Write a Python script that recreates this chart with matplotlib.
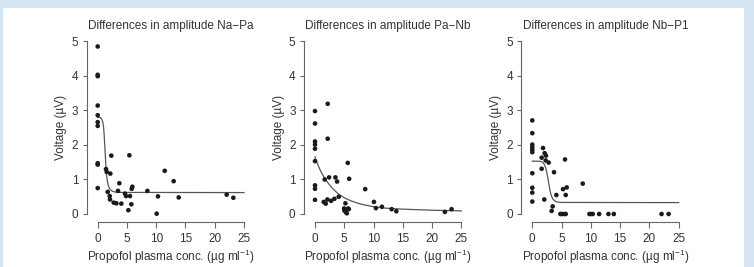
import numpy as np
import matplotlib
matplotlib.use('Agg')
from matplotlib import pyplot as plt
from matplotlib.patches import Rectangle

plt.rcParams['font.family'] = ['Liberation Sans', 'DejaVu Sans']
plt.rcParams['mathtext.fontset'] = 'custom'
plt.rcParams['mathtext.rm'] = 'Liberation Sans'
plt.rcParams['mathtext.it'] = 'Liberation Sans:italic'

titles = ['Differences in amplitude Na\u2212Pa',
          'Differences in amplitude Pa\u2212Nb',
          'Differences in amplitude Nb\u2212P1']
x_ticks = [0, 5, 10, 15, 20, 25]
y_ticks = [0, 1, 2, 3, 4, 5]

# Na-Pa
na_pa_x = [0, 0, 0, 0, 0, 0, 0, 0, 0, 0,
           2.33, 5.41, 1.42, 1.54, 2.16, 11.45, 12.98, 3.70, 1.71, 2.05,
           2.10, 3.47, 4.67, 4.84, 5.52, 5.81, 5.92, 8.49, 10.3, 13.84,
           22.04, 23.18, 2.73, 3.19, 4.04, 5.75, 5.24, 10.08]
na_pa_y = [4.85, 4.03, 3.99, 3.14, 2.86, 2.66, 2.55, 1.47, 1.43, 0.75,
           1.69, 1.70, 1.30, 1.22, 1.17, 1.25, 0.95, 0.89, 0.64, 0.52,
           0.42, 0.67, 0.59, 0.52, 0.52, 0.73, 0.79, 0.67, 0.51, 0.48,
           0.56, 0.47, 0.33, 0.31, 0.30, 0.28, 0.11, 0.01]
na_pa_fit_x = [0, 0.3, 0.6, 0.85, 1.0, 1.1, 1.2, 1.3, 1.4, 1.5, 1.65, 1.85,
               2.1, 2.5, 3.0, 4.0, 25]
na_pa_fit_y = [2.80, 2.80, 2.77, 2.68, 2.52, 2.30, 2.00, 1.70, 1.40, 1.15,
               0.95, 0.80, 0.71, 0.66, 0.635, 0.625, 0.62]

# Pa-Nb
pa_nb_x = [0, 0, 0, 0, 0, 0, 0, 0, 0,
           2.17, 2.17, 1.66, 2.40, 3.49, 3.78, 5.60, 5.84, 8.58,
           1.49, 1.83, 2.12, 2.75, 3.32, 4.06, 5.20, 4.98, 5.03, 5.26,
           5.43, 5.66, 5.78, 10.07, 10.41, 11.44, 13.1, 13.9, 22.2, 23.34]
pa_nb_y = [2.98, 2.62, 2.10, 2.01, 1.89, 1.53, 0.83, 0.73, 0.41,
           3.19, 2.18, 1.00, 1.06, 1.06, 0.94, 1.48, 1.02, 0.72,
           0.35, 0.30, 0.42, 0.38, 0.44, 0.50, 0.31, 0.16, 0.10, 0.06,
           0.02, 0.16, 0.14, 0.35, 0.17, 0.21, 0.14, 0.08, 0.06, 0.14]
pa_nb_fit_x = [0, 0.5, 1, 1.5, 2, 2.5, 3, 4, 5, 6, 7, 8, 10, 12, 15, 20, 25]
pa_nb_fit_y = [1.65, 1.42, 1.23, 1.08, 0.95, 0.84, 0.74, 0.58, 0.47, 0.39,
               0.33, 0.28, 0.21, 0.17, 0.14, 0.11, 0.09]

# Nb-P1
nb_p1_x = [0, 0, 0, 0, 0, 0, 0, 0, 0, 0,
           1.83, 1.60, 1.60, 2.11, 2.34, 2.28, 2.80, 3.71, 2.05, 3.48,
           3.31, 4.11, 5.59, 5.25, 5.88, 5.71, 8.62,
           4.80, 5.08, 5.48, 5.71, 9.76, 10.05, 10.33, 11.42, 13.01, 13.93,
           22.09, 23.29]
nb_p1_y = [2.71, 2.34, 2.01, 1.93, 1.86, 1.79, 1.18, 0.76, 0.62, 0.36,
           1.91, 1.63, 1.31, 1.76, 1.69, 1.55, 1.49, 1.21, 0.42, 0.22,
           0.09, 0.55, 1.58, 0.72, 0.77, 0.55, 0.88,
           0, 0, 0, 0, 0, 0, 0, 0, 0, 0,
           0, 0]
nb_p1_fit_x = [0, 1.0, 1.5, 1.8, 2.1, 2.35, 2.6, 2.8, 3.0, 3.2, 3.45, 3.8,
               4.3, 5.0, 25]
nb_p1_fit_y = [1.53, 1.53, 1.52, 1.49, 1.42, 1.30, 1.10, 0.90, 0.70, 0.56,
               0.45, 0.38, 0.345, 0.335, 0.33]

panels = [(na_pa_x, na_pa_y, na_pa_fit_x, na_pa_fit_y),
          (pa_nb_x, pa_nb_y, pa_nb_fit_x, pa_nb_fit_y),
          (nb_p1_x, nb_p1_y, nb_p1_fit_x, nb_p1_fit_y)]

W, H = 754, 267
fig = plt.figure(figsize=(W / 100, H / 100), dpi=100, facecolor='#d5e4f2')
fig.patches.append(Rectangle((3 / W, 0), 741 / W, (H - 8) / H,
                             transform=fig.transFigure, facecolor='white',
                             edgecolor='none', zorder=-5))

lefts = [97.7, 315.0, 532.3]
txt = '#333333'
for i, (px, py, fx, fy) in enumerate(panels):
    ax = fig.add_axes([lefts[i] / W, (H - 214) / H, 146.3 / W, 172.7 / H])
    ax.set_facecolor('none')
    ax.plot(fx, fy, color='#555555', lw=0.9, clip_on=False, zorder=2)
    ax.scatter(px, py, s=11, color='#1a1a1a', edgecolors='none',
               clip_on=False, zorder=3)
    ax.set_xlim(0, 25)
    ax.set_ylim(0, 5)
    ax.set_xticks(x_ticks)
    ax.set_yticks(y_ticks)
    for s in ['top', 'right']:
        ax.spines[s].set_visible(False)
    ax.spines['left'].set_position(('outward', 8))
    ax.spines['bottom'].set_position(('outward', 6))
    for s in ['left', 'bottom']:
        ax.spines[s].set_color('#666666')
        ax.spines[s].set_linewidth(0.8)
    ax.tick_params(axis='x', length=4, width=0.8, color='#666666',
                   pad=3.5, labelsize=8.5, labelcolor=txt)
    ax.tick_params(axis='y', length=3, width=0.8, color='#666666',
                   pad=3, labelsize=8.5, labelcolor=txt)
    ax.set_title(titles[i], fontsize=8.5, color=txt, pad=9)
    ax.set_xlabel('Propofol plasma conc. (\u00b5g ml$^{-1}$)', fontsize=8.5,
                  color=txt, labelpad=2)
    ax.set_ylabel('Voltage (\u00b5V)', fontsize=8.5, color=txt, labelpad=3)

fig.savefig('out.png', dpi=100, facecolor=fig.get_facecolor())
